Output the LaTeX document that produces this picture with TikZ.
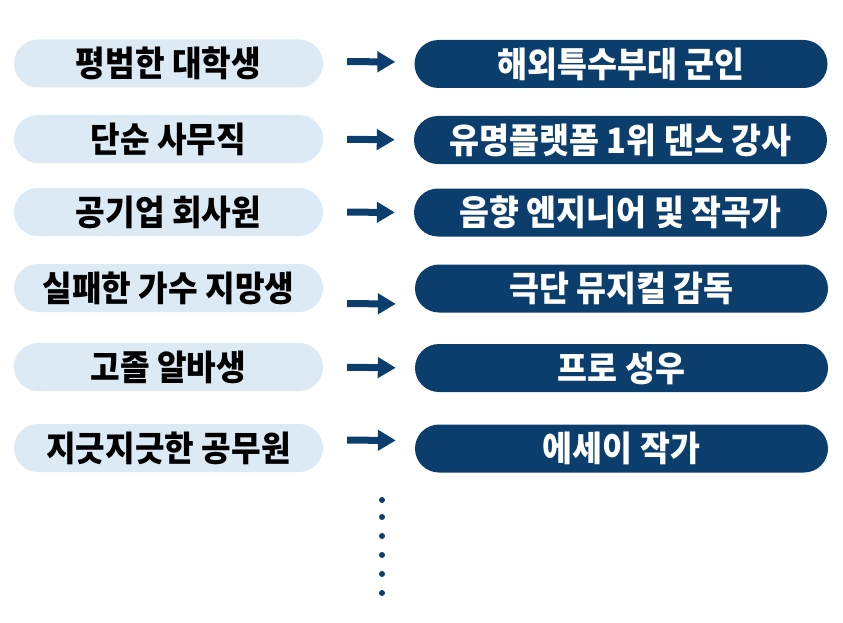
\documentclass[tikz,border=0pt]{standalone}
\usepackage{fontspec}
\newfontfamily\krleft[FakeStretch=0.92]{Noto Sans CJK KR Black}
\newfontfamily\krright[FakeStretch=0.93]{Noto Sans CJK KR Black}
\usetikzlibrary{arrows.meta, positioning}
\definecolor{paleblue}{HTML}{DCEAF5}
\definecolor{navy}{HTML}{0B3D6D}

\begin{document}
\begin{tikzpicture}[x=1pt, y=-1pt,
    pill/.style={rounded corners=24pt, minimum height=48pt, inner sep=0pt},
    before/.style={pill, fill=paleblue, minimum width=309pt, text=black,
        font=\krleft\fontsize{35}{36}\selectfont},
    after/.style={pill, fill=navy, minimum width=413pt, text=white,
        font=\krright\fontsize{35}{36}\selectfont},
    goarrow/.style={-{Triangle[length=18pt 0 0, width=20pt 0 0]}, line width=7pt, navy,
        shorten <=24pt, shorten >=19pt}]
    \useasboundingbox (0,0) rectangle (843,623);

    % Before
    \node[before] (b1) at (168.5,63.5) {평범한 대학생};
    \node[before] (b2) at (168.5,139) {단순 사무직};
    \node[before] (b3) at (168.5,212) {공기업 회사원};
    \node[before] (b4) at (168.5,288) {실패한 가수 지망생};
    \node[before] (b5) at (168.5,367) {고졸 알바생};
    \node[before] (b6) at (168.5,448) {지긋지긋한 공무원};

    % After (text sits a little off centre in some pills)
    \node[after] (a1) at (621,64) {해외특수부대 군인\hspace{22pt}};
    \node[after] (a2) at (620.5,140) {유명플랫폼 1위 댄스 강사};
    \node[after] (a3) at (620.5,212.5) {음향 엔지니어 및 작곡가};
    \node[after] (a4) at (621.5,288.5) {\raisebox{2pt}{극단 뮤지컬 감독}\hspace{20pt}};
    \node[after] (a5) at (621.5,368) {\raisebox{3pt}{프로 성우}};
    \node[after] (a6) at (621.5,448.5) {\raisebox{2pt}{에세이 작가}\hspace{6pt}};

    % Arrows
    \foreach \i in {2,3,5}
    \draw[goarrow] (b\i.east) -- (a\i.west);
    \draw[goarrow] ([yshift=2pt]b1.east) -- ([yshift=2pt]a1.west);
    \draw[goarrow] ([yshift=-15.5pt]b4.east) -- ([yshift=-15.5pt]a4.west);
    \draw[goarrow] ([yshift=8pt]b6.east) -- ([yshift=8pt]a6.west);

    % More
    \foreach \y in {500, 517, 536, 555, 574, 593}
    \fill[navy] (382,\y) circle (3pt);
\end{tikzpicture}
\end{document}
